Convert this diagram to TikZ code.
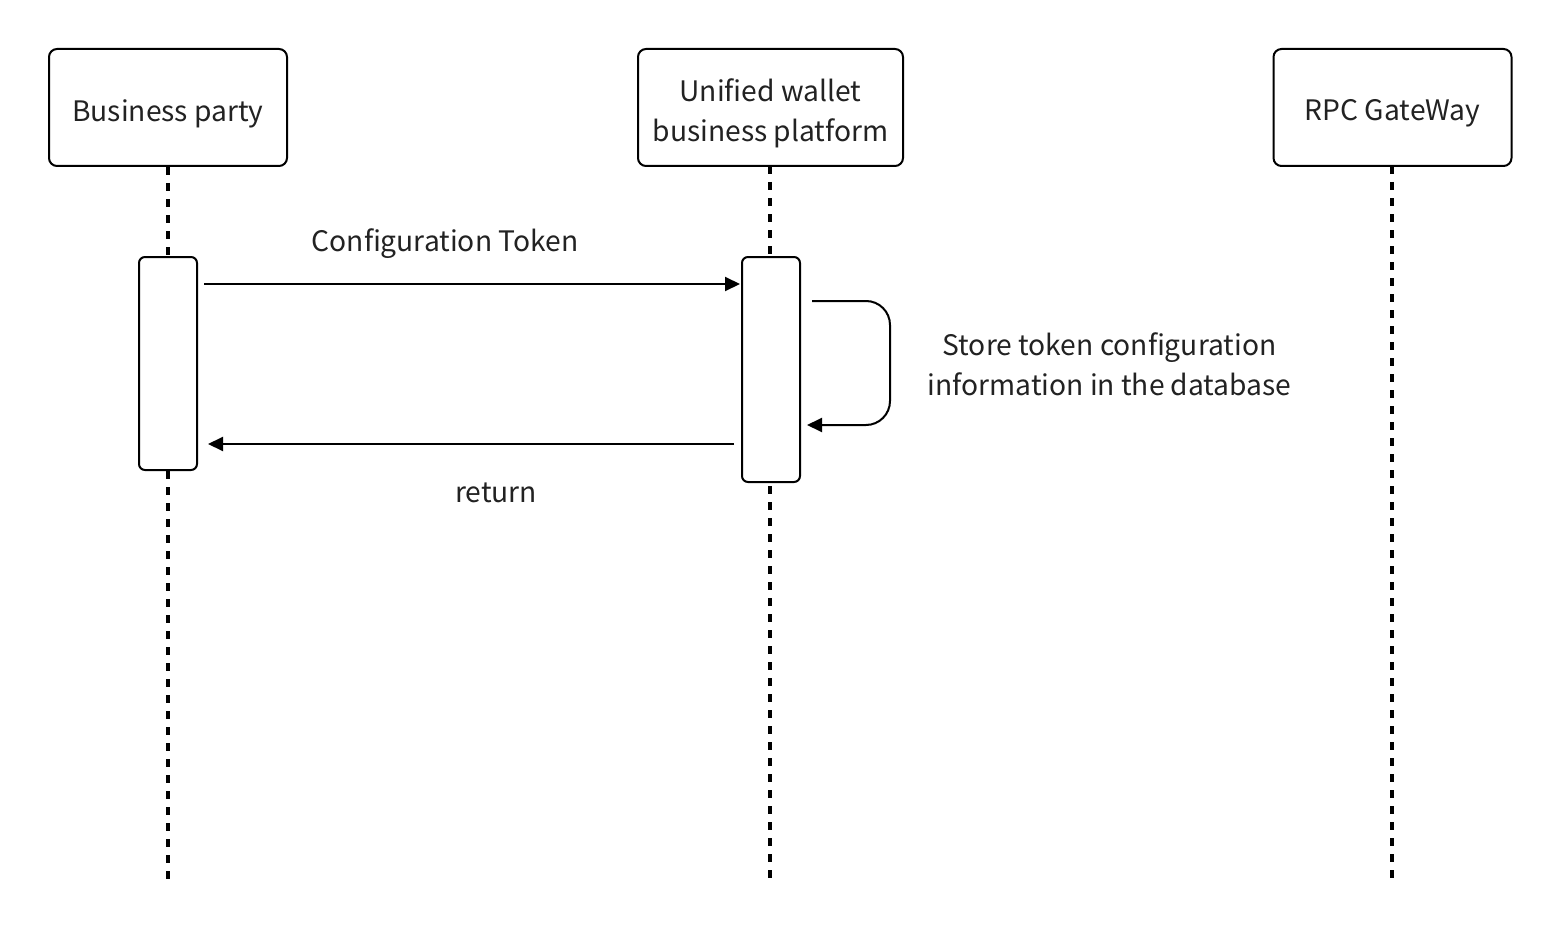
\documentclass[tikz,border=0pt]{standalone}
\usepackage{fontspec}
\setmainfont{Noto Sans CJK SC}
\usetikzlibrary{arrows.meta}
\definecolor{txt}{HTML}{222222}
\begin{document}
\begin{tikzpicture}[x=1pt,y=-1pt,
  actor/.style={draw,line width=2pt,rounded corners=8pt,fill=white,minimum width=238pt,minimum height=117pt,inner sep=0pt},
  act/.style={draw,line width=2pt,rounded corners=6pt,fill=white,minimum width=58pt,inner sep=0pt},
  life/.style={line width=3.5pt,dash pattern=on 8pt off 8pt},
  msg/.style={line width=2pt,-{Triangle[length=15pt,width=14pt]}},
  lbl/.style={font=\fontsize{28.2}{40}\selectfont,text=txt,align=center,inner sep=0pt}]
\useasboundingbox (0,0) rectangle (1562,936);
\node[actor] (bp) at (168,107.5) {};
\node[actor,minimum width=265pt] (uw) at (770.5,107.5) {};
\node[actor] (rpc) at (1392.5,107.5) {};
\node[lbl] (bpt) at (168,113.5) {Business party};
\node[lbl] (uwt) at (770.5,113) {Unified wallet\\business platform};
\node[lbl] (rpct) at (1392.5,113.5) {RPC GateWay};
\coordinate (bpe) at (168,880);
\coordinate (uwe) at (770,880);
\coordinate (rpce) at (1392,880);
\draw[life] (bp.south) -- (bpe);
\draw[life] (770,166) -- (uwe);
\draw[life] (1392,166) -- (rpce);
\node[act,minimum height=213pt] (a1) at (168,363.5) {};
\node[act,minimum height=225pt] (a2) at (771,369.5) {};
\coordinate (m1s) at (204,284);
\coordinate (m1e) at (740,284);
\draw[msg] (m1s) -- (m1e);
\node[lbl] (l1) at (445,244) {Configuration Token};
\coordinate (s1) at (812,301);
\coordinate (s2) at (890,301);
\coordinate (s3) at (890,425);
\coordinate (s4) at (807,425);
\draw[msg,rounded corners=24pt] (s1) -- (s2) -- (s3) -- (s4);
\node[lbl] (l2) at (1109.5,364) {Store token configuration\\information in the database};
\coordinate (r1) at (734,444);
\coordinate (r2) at (208,444);
\draw[msg] (r1) -- (r2);
\node[lbl] (l3) at (496,493) {return};
\end{tikzpicture}
\end{document}
